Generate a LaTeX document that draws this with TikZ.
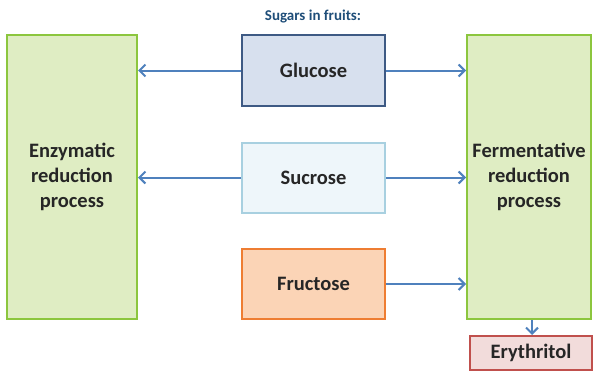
\documentclass[tikz,border=0pt]{standalone}
\usepackage{fontspec}
\setmainfont{Carlito}
\usetikzlibrary{arrows.meta}
\definecolor{gfill}{HTML}{DFEDC3}
\definecolor{gdraw}{HTML}{8CC63E}
\definecolor{glfill}{HTML}{D7E0EE}
\definecolor{gldraw}{HTML}{3E5A84}
\definecolor{sufill}{HTML}{EEF6FA}
\definecolor{sudraw}{HTML}{A8D0E0}
\definecolor{frfill}{HTML}{FBD4B6}
\definecolor{frdraw}{HTML}{EE7D32}
\definecolor{erfill}{HTML}{F2DCDB}
\definecolor{erdraw}{HTML}{C0504D}
\definecolor{arr}{HTML}{4F81BD}
\definecolor{ttl}{HTML}{1F4E79}
\tikzset{
  box/.style={draw, line width=2pt, inner sep=0pt, text=black!85, font=\bfseries\fontsize{20.5}{25}\selectfont, align=center},
  conn/.style={arr, line width=2pt, -{Straight Barb[length=6pt,width=12pt,line width=2pt]}},
}
\begin{document}
\begin{tikzpicture}[x=1pt,y=-1pt]
\useasboundingbox (0,0) rectangle (594,372);
\node[box, fill=gfill, draw=gdraw, minimum width=130pt, minimum height=284pt] (enz) at (72,177) {Enzymatic\\reduction\\process};
\node[box, fill=gfill, draw=gdraw, minimum width=124pt, minimum height=284pt] (fer) at (529,177) {Fermentative\\reduction\\process};
\node[box, fill=glfill, draw=gldraw, minimum width=143pt, minimum height=71pt] (glu) at (313.5,70.5) {Glucose};
\node[box, fill=sufill, draw=sudraw, minimum width=143pt, minimum height=70pt] (suc) at (313.5,177.5) {Sucrose};
\node[box, fill=frfill, draw=frdraw, minimum width=143pt, minimum height=70pt] (fru) at (313.5,284) {Fructose};
\node[box, fill=erfill, draw=erdraw, minimum width=122pt, minimum height=34pt] (ery) at (531,353) {Erythritol};
\node[text=ttl, font=\bfseries\fontsize{15}{17}\selectfont] (title) at (313,17) {Sugars in fruits:};
\draw[conn] (glu.west) -- (glu.west -| enz.east);
\draw[conn] (suc.west) -- (suc.west -| enz.east);
\draw[conn] (glu.east) -- (glu.east -| fer.west);
\draw[conn] (suc.east) -- (suc.east -| fer.west);
\draw[conn] (fru.east) -- (fru.east -| fer.west);
\draw[conn] (fer.south -| ery.north) ++(1,0) coordinate (fs) -- (fs |- ery.north);
\end{tikzpicture}
\end{document}
